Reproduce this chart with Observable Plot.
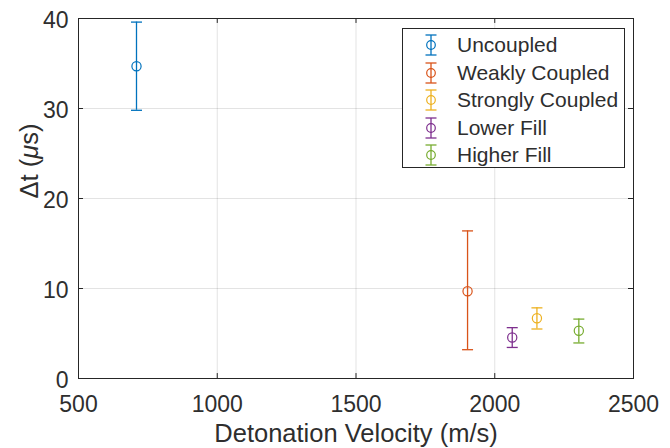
<!DOCTYPE html>
<html><head><meta charset="utf-8">
<script src="https://cdn.jsdelivr.net/npm/d3@7"></script>
<script src="https://cdn.jsdelivr.net/npm/@observablehq/plot@0.6"></script>
<style>
body{margin:0;background:#fff;}
#wrap{position:relative;width:670px;height:448px;}
#legend{position:absolute;left:402px;top:28px;width:221px;height:138px;border:1px solid #262626;background:#fff;font-family:"Liberation Sans",Arial,sans-serif;font-size:21px;color:#2e2e2e;}
.row{position:absolute;left:0;height:28px;display:flex;align-items:center;white-space:nowrap;}
.row svg{margin-left:18px;margin-right:16px;}
</style></head><body><div id="wrap"></div>
<script>
const series = ["Uncoupled", "Weakly Coupled", "Strongly Coupled", "Lower Fill", "Higher Fill"];
const velocity = [709, 1902, 2152, 2063, 2303];
const deltaT = [34.7, 9.7, 6.7, 4.55, 5.3];
const lower = [29.8, 3.2, 5.5, 3.45, 3.95];
const upper = [39.6, 16.4, 7.85, 5.65, 6.6];
const colors = ["#0072BD", "#D95319", "#EDB120", "#7E2F8E", "#77AC30"];
const xTicks = [500, 1000, 1500, 2000, 2500];
const yTicks = [0, 10, 20, 30, 40];
const xLabel = "Detonation Velocity (m/s)";
const yLabel = "Δt (μs)";

const data = series.map((name, i) => ({name, v: velocity[i], t: deltaT[i], lo: lower[i], hi: upper[i]}));
const cap = {draw(ctx) { ctx.moveTo(-5.5, 0); ctx.lineTo(5.5, 0); }};
const ink = "#262626";
const textInk = "#2e2e2e";

const svg = Plot.plot({
  width: 670, height: 448,
  marginLeft: 78, marginRight: 37, marginTop: 18, marginBottom: 70,
  style: {fontFamily: "'Liberation Sans', Arial, sans-serif", color: textInk, background: "#fff"},
  x: {domain: [500, 2500]},
  y: {domain: [0, 40]},
  color: {domain: series, range: colors},
  marks: [
    Plot.gridX(xTicks, {stroke: ink, strokeOpacity: 0.13}),
    Plot.gridY(yTicks, {stroke: ink, strokeOpacity: 0.13}),
    Plot.ruleX(xTicks, {x: d => d, y1: 0, y2: 0.55, stroke: ink}),
    Plot.ruleX(xTicks, {x: d => d, y1: 39.45, y2: 40, stroke: ink}),
    Plot.ruleY(yTicks, {y: d => d, x1: 500, x2: 518, stroke: ink}),
    Plot.ruleY(yTicks, {y: d => d, x1: 2482, x2: 2500, stroke: ink}),
    Plot.frame({stroke: ink, strokeWidth: 1}),
    Plot.axisX(xTicks, {tickSize: 0, tickPadding: 17, fontSize: 23, tickFormat: d => String(d), label: null}),
    Plot.axisY(yTicks, {tickSize: 0, tickPadding: 10, fontSize: 23, dy: 2, tickFormat: d => String(d), label: null}),
    Plot.text([xLabel], {frameAnchor: "bottom", dy: 63, lineAnchor: "bottom", fontSize: 25.5, fill: textInk}),
    Plot.text([yLabel], {frameAnchor: "left", dx: -41, rotate: -90, lineAnchor: "bottom", fontSize: 25.5, fill: textInk}),
    Plot.ruleX(data, {x: "v", y1: "lo", y2: "hi", stroke: "name", strokeWidth: 1.3}),
    Plot.dot(data, {x: "v", y: "hi", symbol: cap, stroke: "name", fill: "none", strokeWidth: 1.3}),
    Plot.dot(data, {x: "v", y: "lo", symbol: cap, stroke: "name", fill: "none", strokeWidth: 1.3}),
    Plot.dot(data, {x: "v", y: "t", r: 4.6, stroke: "name", fill: "none", strokeWidth: 1.2})
  ]
});

// italic mu in the y label
d3.select(svg).selectAll("text").filter(function() { return this.textContent === yLabel; }).each(function() {
  const t = d3.select(this);
  t.text("");
  t.append("tspan").text("Δt (");
  t.append("tspan").attr("font-style", "italic").text("μ");
  t.append("tspan").text("s)");
});

const wrap = document.getElementById("wrap");
wrap.appendChild(svg);

const legend = d3.select(wrap).append("div").attr("id", "legend");
const rowY = [2, 30, 57, 85, 112];
series.forEach((name, i) => {
  const row = legend.append("div").attr("class", "row").style("top", rowY[i] + "px");
  const s = row.append("svg").attr("width", 20).attr("height", 28);
  const c = colors[i];
  s.append("line").attr("x1", 10).attr("x2", 10).attr("y1", 4).attr("y2", 24).attr("stroke", c).attr("stroke-width", 1.3);
  s.append("line").attr("x1", 4.5).attr("x2", 15.5).attr("y1", 4).attr("y2", 4).attr("stroke", c).attr("stroke-width", 1.3);
  s.append("line").attr("x1", 4.5).attr("x2", 15.5).attr("y1", 24).attr("y2", 24).attr("stroke", c).attr("stroke-width", 1.3);
  s.append("circle").attr("cx", 10).attr("cy", 14).attr("r", 4.3).attr("fill", "none").attr("stroke", c).attr("stroke-width", 1.2);
  row.append("span").text(name);
});
</script></body></html>
